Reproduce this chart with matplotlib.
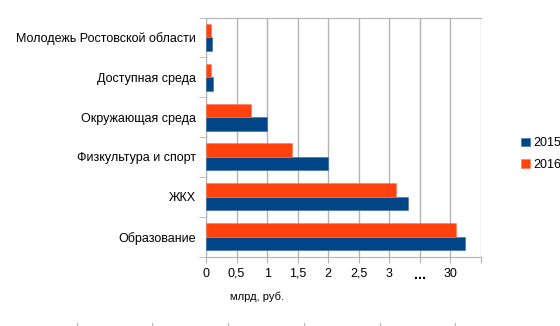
import numpy as np
import matplotlib
matplotlib.use('Agg')
import matplotlib.pyplot as plt
from matplotlib.lines import Line2D

plt.rcParams['font.family'] = ['Liberation Sans', 'DejaVu Sans']

# categories from top to bottom
categories = ['Молодежь Ростовской области', 'Доступная среда', 'Окружающая среда',
              'Физкультура и спорт', 'ЖКХ', 'Образование']
# values in axis units (the axis is broken: 4.0 on the axis stands for 30)
vals_2015 = [0.09, 0.11, 1.0, 2.0, 3.31, 4.24]
vals_2016 = [0.08, 0.08, 0.73, 1.40, 3.11, 4.09]
series = ['2015', '2016']
tick_pos = [0, 0.5, 1, 1.5, 2, 2.5, 3, 3.5, 4, 4.5]
tick_labels = ['0', '0,5', '1', '1,5', '2', '2,5', '3', '...', '30', '']

blue = '#004586'
orange = '#ff420e'
grid_c = '#b3b3b3'

fig = plt.figure(figsize=(5.6, 3.26), dpi=100)
ax = fig.add_axes([206/560, 1 - 256.5/326, 275/560, 239/326])

y = np.arange(len(categories))
h = 0.34
b1 = ax.barh(y + h/2, vals_2015, height=h, color=blue, edgecolor='#3a6fa3', linewidth=0.4, zorder=3, label=series[0])
b2 = ax.barh(y - h/2, vals_2016, height=h, color=orange, edgecolor='#ff7a55', linewidth=0.4, zorder=3, label=series[1])

ax.set_xlim(0, 4.5)
ax.set_ylim(len(categories) - 0.5, -0.5)

ax.set_xticks(tick_pos)
ax.set_xticklabels(tick_labels, fontsize=9)
for lbl in ax.get_xticklabels():
    if lbl.get_text() == '...':
        lbl.set_fontweight('bold')
        lbl.set_fontsize(10)
ax.xaxis.grid(True, color=grid_c, linewidth=1, zorder=0)
ax.tick_params(axis='x', length=4, color=grid_c, pad=4)

ax.set_yticks(y)
ax.set_yticklabels(categories, fontsize=9)
ax.set_yticks(np.arange(-0.5, len(categories), 1), minor=True)
ax.tick_params(axis='y', which='major', length=0, pad=7)
ax.tick_params(axis='y', which='minor', length=5, color=grid_c)

for s in ['left', 'bottom', 'top']:
    ax.spines[s].set_color(grid_c)
ax.spines['right'].set_visible(False)

fig.text(230/560, 1 - 297/326, 'млрд, руб.', fontsize=8, ha='left', va='center')

fig.legend(handles=[b1, b2], labels=series, loc='center left',
           bbox_to_anchor=(515/560, 1 - 154/326), frameon=False, fontsize=9,
           handlelength=0.7, handleheight=0.7, handletextpad=0.25, labelspacing=0.75,
           borderpad=0)

# small ruler marks along the bottom edge
for xm in [77, 152, 228, 304, 380, 455]:
    fig.add_artist(Line2D([xm/560, xm/560], [0, 3/326], color=grid_c, linewidth=0.8,
                          transform=fig.transFigure))

fig.savefig('out.png', dpi=100)
